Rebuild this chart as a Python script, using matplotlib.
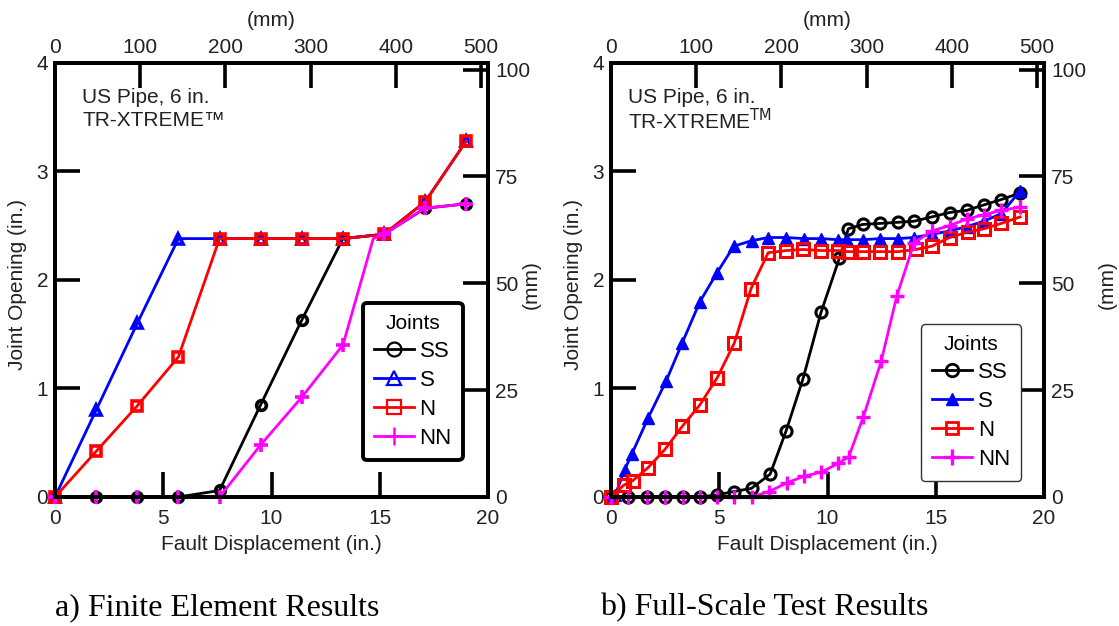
import matplotlib
matplotlib.use('Agg')
import matplotlib.pyplot as plt
from matplotlib.lines import Line2D

plt.rcParams['font.family'] = ['Liberation Sans', 'DejaVu Sans']

# ---------------- Finite element results (left) ----------------
fe_x = [0, 1.9, 3.8, 5.7, 7.6, 9.5, 11.4, 13.3, 15.2, 17.1, 19.0]
fe_ss = [0, 0, 0, 0, 0.06, 0.85, 1.63, 2.38, 2.42, 2.66, 2.70]
fe_s = [0, 0.80, 1.60, 2.38, 2.38, 2.38, 2.38, 2.38, 2.42, 2.72, 3.28]
fe_n = [0, 0.42, 0.84, 1.29, 2.38, 2.38, 2.38, 2.38, 2.42, 2.72, 3.28]
fe_nn_x = [0, 1.9, 3.8, 5.7, 7.6, 9.5, 11.4, 13.3, 14.7, 15.2, 17.1, 19.0]
fe_nn = [0, 0, 0, 0, 0, 0.48, 0.92, 1.40, 2.38, 2.42, 2.66, 2.70]
fe_nn_marked = [0, 1, 2, 3, 4, 5, 6, 7, 9, 10, 11]

# ---------------- Full-scale test results (right) ----------------
ts_ss_x = [0, 0.77, 1.68, 2.50, 3.32, 4.11, 4.91, 5.67, 6.49, 7.35, 8.09, 8.87, 9.70,
           10.55, 10.96, 11.62, 12.44, 13.26, 14.0, 14.82, 15.64, 16.43, 17.22, 18.03, 18.9]
ts_ss = [0, 0, 0, 0, 0, 0, 0.02, 0.05, 0.08, 0.21, 0.61, 1.09, 1.70,
         2.20, 2.47, 2.51, 2.52, 2.53, 2.54, 2.58, 2.62, 2.64, 2.69, 2.74, 2.80]

ts_s_x = [0, 0.2, 0.63, 0.97, 1.72, 2.55, 3.29, 4.11, 4.88, 5.67, 6.49, 7.26, 8.09, 8.91, 9.70,
          10.47, 10.88, 11.65, 12.44, 13.26, 14.0, 14.82, 15.64, 16.43, 17.22, 18.03, 18.9]
ts_s = [0, 0.02, 0.25, 0.40, 0.73, 1.07, 1.42, 1.80, 2.06, 2.31, 2.36, 2.39, 2.39, 2.38, 2.38,
        2.37, 2.37, 2.37, 2.38, 2.38, 2.39, 2.42, 2.45, 2.49, 2.54, 2.61, 2.82]

ts_n_x = [0, 0.6, 1.0, 1.71, 2.50, 3.29, 4.11, 4.91, 5.70, 6.47, 7.26, 8.09, 8.87, 9.70,
          10.47, 10.96, 11.62, 12.44, 13.26, 14.08, 14.82, 15.64, 16.47, 17.22, 18.03, 18.9]
ts_n = [0, 0.11, 0.15, 0.27, 0.44, 0.65, 0.85, 1.10, 1.42, 1.92, 2.25, 2.27, 2.28, 2.27,
        2.27, 2.26, 2.26, 2.26, 2.26, 2.28, 2.31, 2.39, 2.44, 2.47, 2.52, 2.58]

ts_nn_x = [0, 0.77, 1.68, 2.50, 3.32, 4.11, 4.91, 5.67, 6.49, 7.30, 8.12, 8.90, 9.72,
           10.5, 10.98, 11.66, 12.48, 13.2, 14.0, 14.82, 15.64, 16.43, 17.22, 18.03, 18.9]
ts_nn = [0, 0, 0, 0, 0, 0, 0, 0, 0, 0.05, 0.13, 0.19, 0.23,
         0.31, 0.37, 0.74, 1.25, 1.85, 2.34, 2.45, 2.50, 2.56, 2.60, 2.64, 2.67]

x_ticks = [0, 5, 10, 15, 20]
y_ticks = [0, 1, 2, 3, 4]
mm_x_ticks = [0, 100, 200, 300, 400, 500]
mm_y_ticks = [0, 25, 50, 75, 100]

C_SS, C_S, C_N, C_NN = 'black', '#0000ff', '#ff0000', '#ff00ff'
TICK_COLOR = '#222222'
FS = 15

fig = plt.figure(figsize=(11.19, 6.26), dpi=100)
W, H = 1119.0, 626.0
ax_w = 433 / W
ax_h = 434.3 / H
ax_b = 1 - 497 / H
axL = fig.add_axes([55 / W, ax_b, ax_w, ax_h])
axR = fig.add_axes([611 / W, ax_b, ax_w, ax_h])


def style(ax, rlabel_x):
    ax.set_xlim(0, 20)
    ax.set_ylim(0, 4)
    ax.set_xticks(x_ticks)
    ax.set_yticks(y_ticks)
    ax.tick_params(direction='in', length=18, width=2.6, labelsize=FS,
                   pad=5, colors='black', labelcolor=TICK_COLOR)
    ax.tick_params(axis='x', pad=9)
    for sp in ax.spines.values():
        sp.set_linewidth(2.6)
    ax.set_xlabel('Fault Displacement (in.)', fontsize=FS, color=TICK_COLOR)
    ax.xaxis.set_label_coords(0.5, -0.088)
    ax.set_ylabel('Joint Opening (in.)', fontsize=FS, color=TICK_COLOR)
    ax.yaxis.set_label_coords(-0.064, 0.49)

    axt = ax.twiny()
    axt.set_xlim(0, 20 * 25.4)
    axt.set_xticks(mm_x_ticks)
    axt.tick_params(direction='in', length=18, width=2.6, labelsize=FS, pad=4,
                    labelcolor=TICK_COLOR)
    axt.set_xlabel('(mm)', fontsize=FS, color=TICK_COLOR)
    axt.xaxis.set_label_coords(0.5, 1.084)
    for sp in axt.spines.values():
        sp.set_linewidth(2.6)

    axr = ax.twinx()
    axr.set_ylim(0, 4 * 25.4)
    axr.set_yticks(mm_y_ticks)
    axr.tick_params(direction='in', length=18, width=2.6, labelsize=FS, pad=5,
                    labelcolor=TICK_COLOR)
    axr.set_ylabel('(mm)', fontsize=FS, color=TICK_COLOR)
    axr.yaxis.set_label_coords(rlabel_x, 0.49)
    for sp in axr.spines.values():
        sp.set_linewidth(2.6)
    return axt, axr


# ---------------- Left plot ----------------
tL, rL = style(axL, 1.078)
lw = 2.0
kw = dict(lw=lw, markersize=7, markeredgewidth=2.6, fillstyle='none', clip_on=False, zorder=3)
axL.plot(fe_x, fe_ss, color=C_SS, marker='o', **kw)
axL.plot(fe_x, fe_s, color=C_S, marker='^', **kw)
axL.plot(fe_x, fe_n, color=C_N, marker='s', **kw)
axL.plot(fe_nn_x, fe_nn, color=C_NN, marker='+', markevery=fe_nn_marked,
         lw=lw, markersize=10, markeredgewidth=2.6, clip_on=False, zorder=4)

axL.text(0.063, 0.921, 'US Pipe, 6 in.', transform=axL.transAxes, fontsize=FS,
         color=TICK_COLOR, va='center')
axL.text(0.063, 0.866, 'TR-XTREME\u2122', transform=axL.transAxes, fontsize=FS,
         color=TICK_COLOR, va='center')

hL = [Line2D([], [], color=C_SS, marker='o', lw=2, markersize=10, markeredgewidth=1.6, fillstyle='none'),
      Line2D([], [], color=C_S, marker='^', lw=2, markersize=10, markeredgewidth=1.6, fillstyle='none'),
      Line2D([], [], color=C_N, marker='s', lw=2, markersize=10, markeredgewidth=1.6, fillstyle='none'),
      Line2D([], [], color=C_NN, marker='+', lw=2, markersize=13, markeredgewidth=1.8)]
legL = rL.legend(hL, ['SS', 'S', 'N', 'NN'], title='Joints', loc='upper left',
                 bbox_to_anchor=(0.711, 0.447), borderaxespad=0, fontsize=FS + 1,
                 title_fontsize=FS, handlelength=1.8, handletextpad=0.25,
                 labelspacing=0.36, borderpad=0.5, fancybox=True, framealpha=1)
legL.get_frame().set_edgecolor('black')
legL.get_frame().set_linewidth(2.8)

# ---------------- Right plot ----------------
tR, rR = style(axR, 1.125)
kw2 = dict(lw=lw, clip_on=False, zorder=3)
axR.plot(ts_ss_x, ts_ss, color=C_SS, marker='o', markersize=8, markeredgewidth=2.2,
         fillstyle='none', **kw2)
axR.plot(ts_s_x, ts_s, color=C_S, marker='^', markersize=8, markeredgewidth=1.0, **kw2)
axR.plot(ts_n_x, ts_n, color=C_N, marker='s', markersize=8, markeredgewidth=2.2,
         fillstyle='none', **kw2)
axR.plot(ts_nn_x, ts_nn, color=C_NN, marker='+', markersize=10, markeredgewidth=2.4, **kw2)

axR.text(0.04, 0.921, 'US Pipe, 6 in.', transform=axR.transAxes, fontsize=FS,
         color=TICK_COLOR, va='center')
axR.text(0.04, 0.866, 'TR-XTREME$^{\\mathrm{TM}}$', transform=axR.transAxes,
         fontsize=FS, color=TICK_COLOR, va='center')

hR = [Line2D([], [], color=C_SS, marker='o', lw=2, markersize=9, markeredgewidth=2.0, fillstyle='none'),
      Line2D([], [], color=C_S, marker='^', lw=2, markersize=9),
      Line2D([], [], color=C_N, marker='s', lw=2, markersize=9, markeredgewidth=2.0, fillstyle='none'),
      Line2D([], [], color=C_NN, marker='+', lw=2, markersize=11, markeredgewidth=2.4)]
legR = rR.legend(hR, ['SS', 'S', 'N', 'NN'], title='Joints', loc='upper left',
                 bbox_to_anchor=(0.716, 0.398), borderaxespad=0, fontsize=FS + 1,
                 title_fontsize=FS, handlelength=1.8, handletextpad=0.25,
                 labelspacing=0.36, borderpad=0.5, fancybox=True, framealpha=1)
legR.get_frame().set_edgecolor('#333333')
legR.get_frame().set_linewidth(1.0)

# ---------------- Captions ----------------
fig.text(55 / W, 1 - 608 / H, 'a) Finite Element Results', fontfamily='Liberation Serif',
         fontsize=23, va='center', ha='left', color='black')
fig.text(600 / W, 1 - 608 / H, 'b) Full-Scale Test Results', fontfamily='Liberation Serif',
         fontsize=23, va='center', ha='left', color='black')

fig.savefig('out.png', dpi=100)
